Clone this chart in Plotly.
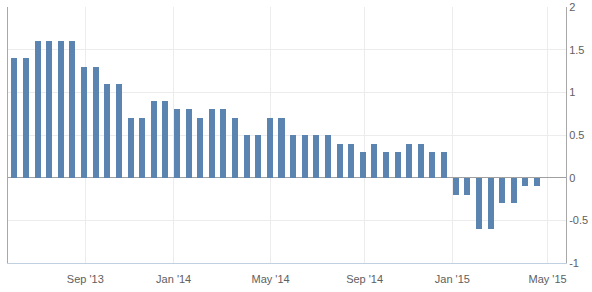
import numpy as np
import pandas as pd
import plotly.graph_objects as go

# Release dates (flash + final readings) and values
release_dates = [
    "2013-05-31", "2013-06-14", "2013-06-28", "2013-07-16", "2013-07-31", "2013-08-14",
    "2013-08-30", "2013-09-17", "2013-09-30", "2013-10-16", "2013-10-31", "2013-11-15",
    "2013-11-29", "2013-12-17", "2014-01-07", "2014-01-16", "2014-01-31", "2014-02-24",
    "2014-02-28", "2014-03-17", "2014-03-31", "2014-04-16", "2014-04-30", "2014-05-16",
    "2014-06-03", "2014-06-17", "2014-06-30", "2014-07-17", "2014-07-31", "2014-08-14",
    "2014-08-29", "2014-09-17", "2014-09-30", "2014-10-16", "2014-10-31", "2014-11-17",
    "2014-11-28", "2014-12-17", "2015-01-07", "2015-01-16", "2015-01-30", "2015-02-26",
    "2015-03-02", "2015-03-17", "2015-03-31", "2015-04-17",
]
values = [
    1.4, 1.4, 1.6, 1.6, 1.6, 1.6,
    1.3, 1.3, 1.1, 1.1, 0.7, 0.7,
    0.9, 0.9, 0.8, 0.8, 0.7, 0.8,
    0.8, 0.7, 0.5, 0.5, 0.7, 0.7,
    0.5, 0.5, 0.5, 0.5, 0.4, 0.4,
    0.3, 0.4, 0.3, 0.3, 0.4, 0.4,
    0.3, 0.3, -0.2, -0.2, -0.6, -0.6,
    -0.3, -0.3, -0.1, -0.1,
]
tick_dates = ["2013-09-01", "2014-01-01", "2014-05-01", "2014-09-01", "2015-01-01", "2015-05-01"]
tick_labels = ["Sep '13", "Jan '14", "May '14", "Sep '14", "Jan '15", "May '15"]
y_ticks = [-1, -0.5, 0, 0.5, 1, 1.5, 2]
y_tick_labels = ["-1", "-0.5", "0", "0.5", "1", "1.5", "2"]

# Ordinal axis: points equally spaced, ticks interpolated between points
n = len(values)
idx = np.arange(n, dtype=float)
d = pd.to_datetime(release_dates).values.astype("datetime64[D]").astype(float)
avg = (d[-1] - d[0]) / (n - 1)
ext_d = np.append(d, d[-1] + avg)
ext_i = np.append(idx, n)
td = pd.to_datetime(tick_dates).values.astype("datetime64[D]").astype(float)
tick_pos = np.interp(td, ext_d, ext_i)

fig = go.Figure()
fig.add_trace(go.Bar(
    x=idx, y=values, width=0.52,
    marker=dict(color="#5b84b1", line=dict(width=0)),
    hovertext=release_dates,
))

font = dict(family="Liberation Sans, Arial, sans-serif", size=11, color="#606060")
fig.update_layout(
    width=592, height=292,
    margin=dict(l=8, r=26, t=7, b=29, autoexpand=False),
    paper_bgcolor="white", plot_bgcolor="white",
    showlegend=False, bargap=0,
    font=font,
    xaxis=dict(
        range=[-0.55, 47.5],
        tickvals=tick_pos, ticktext=tick_labels,
        showgrid=True, gridcolor="#ececec", gridwidth=1,
        showline=True, linecolor="#c0d0e0", linewidth=1,
        ticks="", zeroline=False, tickfont=font,
        automargin=False, ticklabelstandoff=6,
    ),
    yaxis=dict(
        range=[-1, 2], side="right",
        tickvals=y_ticks, ticktext=y_tick_labels,
        showgrid=True, gridcolor="#ececec", gridwidth=1,
        showline=True, mirror=True, linecolor="#a8a8a8", linewidth=1,
        zeroline=True, zerolinecolor="#a0a0a0", zerolinewidth=1,
        ticks="", tickfont=font, automargin=False,
    ),
)
fig.write_html("out.html")
